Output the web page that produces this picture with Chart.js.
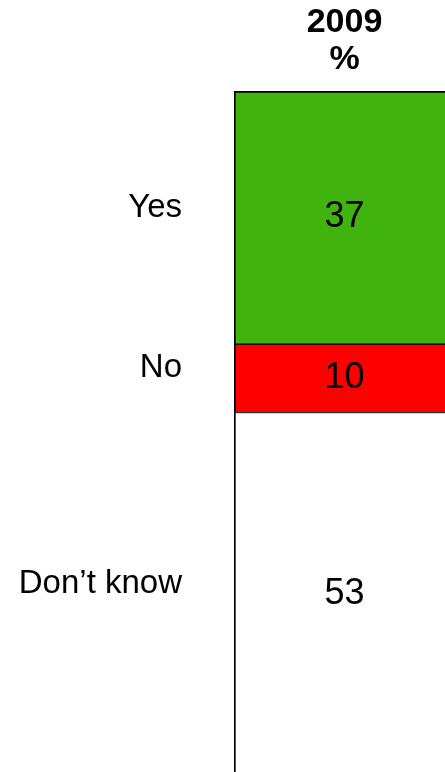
<!DOCTYPE html>
<html>
<head>
<meta charset="utf-8">
<script src="https://cdn.jsdelivr.net/npm/chart.js@4.4.1/dist/chart.umd.min.js"></script>
<style>
  html, body { margin: 0; padding: 0; background: #fff; overflow: hidden; }
  #wrap { width: 445px; height: 772px; overflow: hidden; }
</style>
</head>
<body>
<div id="wrap"><canvas id="chart" width="480" height="800"></canvas></div>
<script>
const years = ['2009'];
const unitLabel = '%';
const answers = ['Yes', 'No', 'Don\u2019t know'];
const shares = [37, 10, 53];
const fills = ['#41b30f', '#ff0000', '#ffffff'];

const FONT = '"Liberation Sans", Arial, sans-serif';

// etiquetas: cabeçalho, respostas à esquerda e valores dentro da barra
const labelPlugin = {
    id: 'labels',
    afterDatasetsDraw(chart) {
        const ctx = chart.ctx;
        const area = chart.chartArea;
        ctx.save();
        ctx.fillStyle = '#000';
        ctx.textBaseline = 'middle';

        chart.data.datasets.forEach((ds, i) => {
            const bar = chart.getDatasetMeta(i).data[0];
            const mid = (bar.y + bar.base) / 2;
            ctx.font = '36px ' + FONT;
            ctx.textAlign = 'center';
            ctx.fillText(String(ds.data[0]), bar.x, mid);
            ctx.font = '33px ' + FONT;
            ctx.textAlign = 'right';
            ctx.fillText(ds.label, area.left - 52, mid - 10);
        });

        const cx = chart.getDatasetMeta(0).data[0].x;
        ctx.font = 'bold 34px ' + FONT;
        ctx.textAlign = 'center';
        ctx.fillText(years[0], cx, 23);
        ctx.fillText(unitLabel, cx, 60);
        ctx.restore();
    }
};

const ctx = document.getElementById('chart').getContext('2d');
new Chart(ctx, {
    type: 'bar',
    data: {
        labels: years,
        datasets: answers.map((a, i) => ({
            label: a,
            data: [shares[i]],
            backgroundColor: fills[i],
            borderColor: '#000',
            borderWidth: { left: 2, right: 2, top: i === 0 ? 2 : 1, bottom: 1 },
            borderSkipped: false,
            barPercentage: 1,
            categoryPercentage: 1
        }))
    },
    options: {
        responsive: false,
        animation: false,
        layout: { padding: { left: 234, right: 25, top: 91, bottom: 25 } },
        scales: {
            x: { stacked: true, display: false },
            y: { stacked: true, display: false, min: 0, max: 100, reverse: true }
        },
        plugins: {
            legend: { display: false },
            tooltip: { enabled: false }
        }
    },
    plugins: [labelPlugin]
});
</script>
</body>
</html>
